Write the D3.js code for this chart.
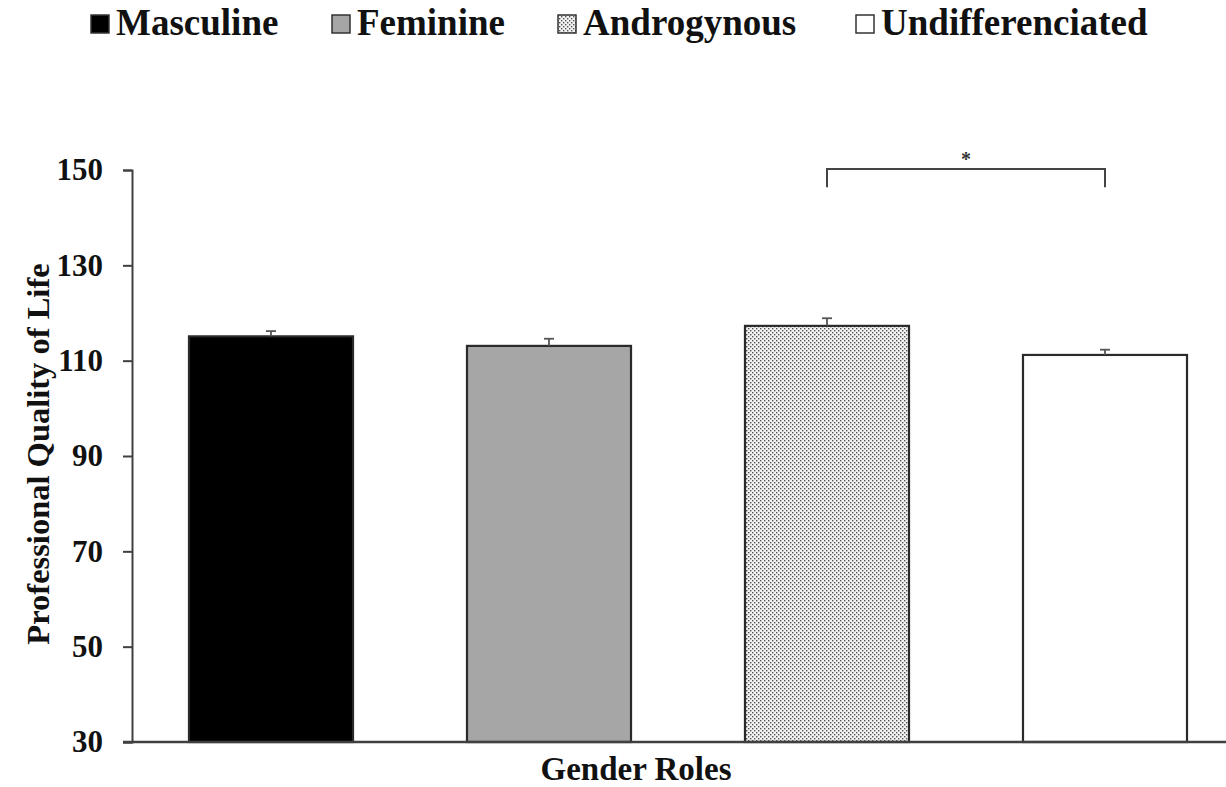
<!DOCTYPE html>
<html><head><meta charset="utf-8">
<script src="https://cdn.jsdelivr.net/npm/d3@7"></script>
<style>
body{margin:0;background:#fff;}
svg{display:block;font-family:"Liberation Serif","Times New Roman",serif;font-weight:bold;}
</style></head>
<body><svg id="chart" width="1226" height="787"></svg>
<script>
const categories = ["Masculine","Feminine","Androgynous","Undifferenciated"];
const means = [115.1, 113.1, 117.3, 111.2];
const errors = [1.1, 1.5, 1.6, 1.1];
const yTicks = [30,50,70,90,110,130,150];
const fills = ["#000000","#a6a6a6","url(#dots)","#ffffff"];
const sigPair = ["Androgynous","Undifferenciated"];
const sigLabel = "*";
const sigLevel = 150.2;
const sigDrop = 3.8;

const svg = d3.select("#chart");
const defs = svg.append("defs");
const pat = defs.append("pattern").attr("id","dots").attr("patternUnits","userSpaceOnUse")
  .attr("width",4).attr("height",4);
pat.append("rect").attr("width",4).attr("height",4).attr("fill","#f2f2f2");
pat.append("rect").attr("x",0).attr("y",0).attr("width",1.4).attr("height",1.4).attr("fill","#555");
pat.append("rect").attr("x",2).attr("y",2).attr("width",1.4).attr("height",1.4).attr("fill","#555");

const x = d3.scaleBand().domain(categories).range([132,1244]).paddingInner(0.41).paddingOuter(0.205);
const y = d3.scaleLinear().domain([30,150]).range([742,170]);

// bars
svg.selectAll("rect.bar").data(categories).enter().append("rect")
  .attr("class","bar")
  .attr("x",d=>x(d)).attr("width",x.bandwidth())
  .attr("y",(d,i)=>y(means[i])).attr("height",(d,i)=>y(30)-y(means[i]))
  .attr("fill",(d,i)=>fills[i]).attr("stroke","#2a2a2a").attr("stroke-width",2.2);

// error bars (upper only)
const eb = svg.selectAll("g.err").data(categories).enter().append("g").attr("class","err");
eb.append("line").attr("x1",d=>x(d)+x.bandwidth()/2).attr("x2",d=>x(d)+x.bandwidth()/2)
  .attr("y1",(d,i)=>y(means[i])).attr("y2",(d,i)=>y(means[i]+errors[i]))
  .attr("stroke","#555").attr("stroke-width",1.8);
eb.append("line").attr("x1",d=>x(d)+x.bandwidth()/2-5).attr("x2",d=>x(d)+x.bandwidth()/2+5)
  .attr("y1",(d,i)=>y(means[i]+errors[i])).attr("y2",(d,i)=>y(means[i]+errors[i]))
  .attr("stroke","#555").attr("stroke-width",1.8);

// y axis
const yAxis = d3.axisLeft(y).tickValues(yTicks).tickSizeOuter(0).tickSize(9).tickPadding(20);
const gy = svg.append("g").attr("transform","translate(132,0)").call(yAxis);
gy.select(".domain").attr("stroke","#404040").attr("stroke-width",2);
gy.selectAll(".tick line").attr("stroke","#404040").attr("stroke-width",2);
gy.selectAll(".tick text").attr("font-size",31).attr("font-family","Liberation Serif, serif")
  .attr("font-weight","bold").attr("fill","#111");

// x axis line
svg.append("line").attr("x1",123).attr("x2",1244).attr("y1",y(30)).attr("y2",y(30))
  .attr("stroke","#404040").attr("stroke-width",2.5);

// significance bracket
const bx1 = x(sigPair[0])+x.bandwidth()/2, bx2 = x(sigPair[1])+x.bandwidth()/2;
svg.append("path")
  .attr("d",`M${bx1},${y(sigLevel-sigDrop)}V${y(sigLevel)}H${bx2}V${y(sigLevel-sigDrop)}`)
  .attr("fill","none").attr("stroke","#444").attr("stroke-width",2);
svg.append("text").attr("x",(bx1+bx2)/2).attr("y",y(sigLevel)-3).attr("text-anchor","middle")
  .attr("font-size",20).attr("fill","#333").text(sigLabel);

// axis titles
svg.append("text").attr("x",636).attr("y",780).attr("text-anchor","middle")
  .attr("font-size",33).attr("fill","#111").text("Gender Roles");
svg.append("text").attr("transform","translate(49,454) rotate(-90)").attr("text-anchor","middle")
  .attr("font-size",32.5).attr("fill","#111").text("Professional Quality of Life");

// legend
const legX = [90,331,557,855];
const leg = svg.selectAll("g.leg").data(categories).enter().append("g").attr("class","leg")
  .attr("transform",(d,i)=>`translate(${legX[i]},0)`);
leg.append("rect").attr("x",1).attr("y",15).attr("width",18).attr("height",18)
  .attr("fill",(d,i)=>fills[i]).attr("stroke","#333").attr("stroke-width",1.5);
leg.append("text").attr("x",26).attr("y",35).attr("font-size",37).attr("fill","#111").text(d=>d);
</script></body></html>
